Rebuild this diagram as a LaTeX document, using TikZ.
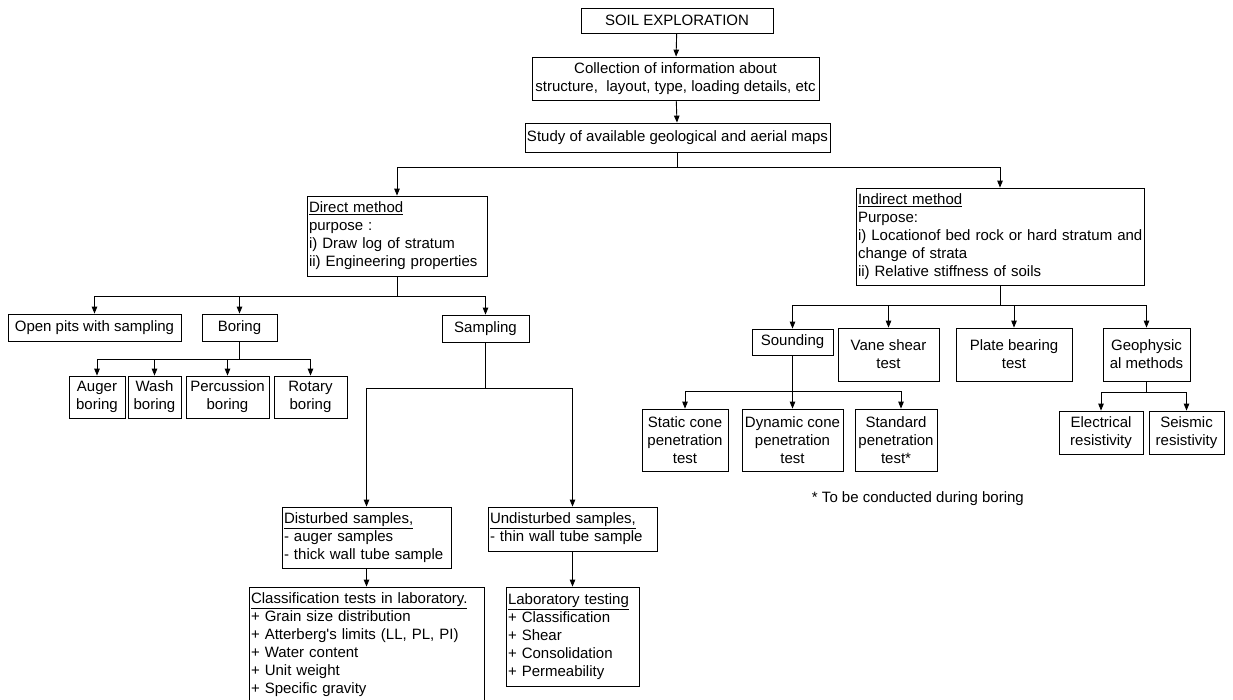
\documentclass[tikz,border=0pt]{standalone}
\usepackage{fontspec}
\setmainfont{Liberation Sans}
\usetikzlibrary{arrows.meta}
\newcommand{\fs}{\fontsize{15}{18}\selectfont}
\tikzset{
  box/.style={draw, line width=0.8pt, inner sep=0pt, font=\fs, align=center},
  lbox/.style={draw, line width=0.8pt, inner ysep=0pt, inner xsep=2pt, font=\fs, align=left},
  conn/.style={line width=0.9pt},
  arr/.style={line width=0.9pt, -{Triangle[length=7pt,width=5.5pt]}},
}
\begin{document}
\begin{tikzpicture}[x=1pt,y=-1pt]
\fill[white] (0,0) rectangle (1233,699);
\useasboundingbox (0,0) rectangle (1233,699);
\clip (0,0) rectangle (1233,699);
% top chain
\node[box, minimum width=192, minimum height=25] (soil) at (677,20.5) {SOIL EXPLORATION};
\node[box, minimum width=287, minimum height=43] (coll) at (675.5,78.5) {Collection of information about\\structure,\ \ layout, type, loading details, etc};
\node[box, minimum width=305, minimum height=29] (study) at (677.5,137.5) {Study of available geological and aerial maps};
% second tier
\node[lbox, minimum width=180, minimum height=80, text width=176] (direct) at (397,236) {\underline{Direct method}\\purpose :\\i) Draw log of stratum\\ii) Engineering properties};
\node[lbox, minimum width=288, minimum height=97, text width=284] (indirect) at (1000,236.5) {\underline{Indirect method}\\Purpose:\\\mbox{i) Locationof bed rock or hard stratum and}\\change of strata\\ii) Relative stiffness of soils};
% direct children
\node[box, minimum width=173, minimum height=27] (open) at (94.5,327.5) {Open pits with sampling};
\node[box, minimum width=75, minimum height=27] (boring) at (239.5,327.5) {Boring};
\node[box, minimum width=87, minimum height=27] (sampling) at (485.5,328.5) {Sampling};
\node[box, minimum width=56, minimum height=42] (auger) at (97,397) {Auger\\boring};
\node[box, minimum width=53, minimum height=42] (wash) at (154.5,397) {Wash\\boring};
\node[box, minimum width=83, minimum height=42] (perc) at (227.5,397) {Percussion\\boring};
\node[box, minimum width=73, minimum height=42] (rotary) at (310.5,397) {Rotary\\boring};
\node[lbox, minimum width=169, minimum height=61, text width=165] (dist) at (366.5,537.5) {\underline{Disturbed samples,}\\- auger samples\\- thick wall tube sample};
\node[lbox, minimum width=169, minimum height=44, text width=165] (undist) at (572.5,529) {\underline{Undisturbed samples,}\\- thin wall tube sample};
\node[lbox, minimum width=235, minimum height=116, text width=231] (classif) at (366.5,645) {\underline{Classification tests in laboratory.}\\+ Grain size distribution\\+ Atterberg\textquotesingle s limits (LL, PL, PI)\\+ Water content\\+ Unit weight\\+ Specific gravity};
\node[lbox, minimum width=133, minimum height=99, text width=129] (lab) at (572.5,636.5) {\underline{Laboratory testing}\\+ Classification\\+ Shear\\+ Consolidation\\+ Permeability};
% indirect children
\node[box, minimum width=81, minimum height=26] (sounding) at (792.5,342) {Sounding};
\node[box, minimum width=101, minimum height=53] (vane) at (888.5,354.5) {Vane shear\\test};
\node[box, minimum width=116, minimum height=53] (plate) at (1014,354.5) {Plate bearing\\test};
\node[box, minimum width=87, minimum height=53] (geo) at (1146.5,354.5) {Geophysic\\al methods};
\node[box, minimum width=86, minimum height=62] (static) at (685,440) {Static cone\\penetration\\test};
\node[box, minimum width=101, minimum height=62] (dyn) at (792.5,440) {Dynamic cone\\penetration\\test};
\node[box, minimum width=82, minimum height=62] (std) at (896,440) {Standard\\penetration\\test*};
\node[box, minimum width=84, minimum height=43] (elec) at (1101,432.5) {Electrical\\resistivity};
\node[box, minimum width=75, minimum height=43] (seis) at (1186.5,432.5) {Seismic\\resistivity};
\node[font=\fs, inner sep=0pt, anchor=east] (note) at (1024,499) {* To be conducted during boring};
% junctions
\coordinate (j1) at (677.5,167);
\coordinate (j2) at (397,296);
\coordinate (j3) at (239.5,359);
\coordinate (j4) at (485.5,388);
\coordinate (j5) at (1000,305);
\coordinate (j6) at (792.5,391);
\coordinate (j7) at (1146.5,392);
% connectors
\draw[arr] (soil) -- (coll);
\draw[arr] (coll) -- (study);
\draw[conn] (study.south) -- (j1);
\draw[arr] (j1) -| (direct.north);
\draw[arr] (j1) -| (indirect.north);
\draw[conn] (direct.south) -- (j2);
\draw[arr] (j2) -| (open.north);
\draw[arr] (j2) -| (boring.north);
\draw[arr] (j2) -| (sampling.north);
\draw[conn] (boring.south) -- (j3);
\draw[arr] (j3) -| (auger.north);
\draw[arr] (j3) -| (wash.north);
\draw[arr] (j3) -| (perc.north);
\draw[arr] (j3) -| (rotary.north);
\draw[conn] (sampling.south) -- (j4);
\draw[arr] (j4) -| (dist.north);
\draw[arr] (j4) -| (undist.north);
\draw[arr] (dist) -- (classif);
\draw[arr] (undist) -- (lab);
\draw[conn] (indirect.south) -- (j5);
\draw[arr] (j5) -| (sounding.north);
\draw[arr] (j5) -| (vane.north);
\draw[arr] (j5) -| (plate.north);
\draw[arr] (j5) -| (geo.north);
\draw[conn] (sounding.south) -- (j6);
\draw[arr] (j6) -| (static.north);
\draw[arr] (j6) -- (dyn.north);
\draw[arr] (j6) -| ([xshift=5pt]std.north);
\draw[conn] (geo.south) -- (j7);
\draw[arr] (j7) -| (elec.north);
\draw[arr] (j7) -| (seis.north);
\end{tikzpicture}
\end{document}
